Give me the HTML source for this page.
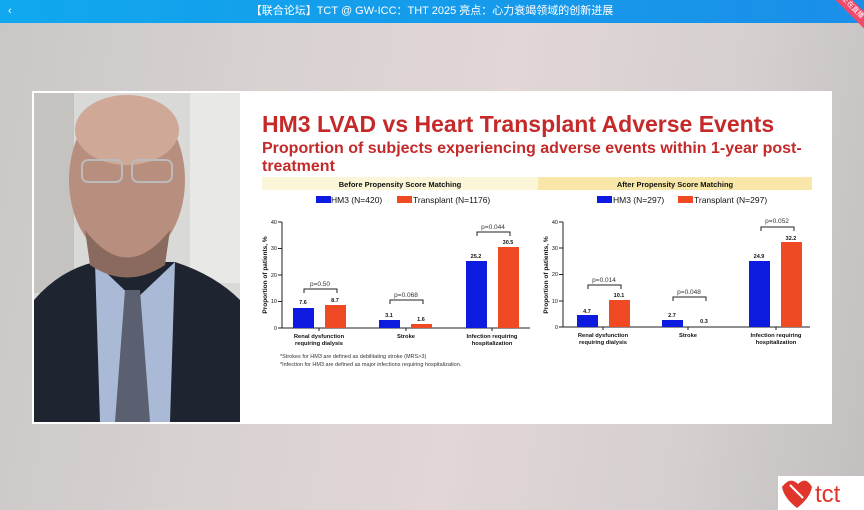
<!DOCTYPE html>
<html><head><meta charset="utf-8"><style>
*{margin:0;padding:0;box-sizing:border-box}
body{width:864px;height:510px;overflow:hidden;font-family:"Liberation Sans","Noto Sans CJK SC",sans-serif;background:linear-gradient(100deg,#c9c7c6 0%,#d8d2d1 30%,#e2d6d6 55%,#d5cfcf 80%,#c2bfbf 100%);position:relative}
.top{position:absolute;left:0;top:0;width:864px;height:23px;background:linear-gradient(90deg,#10a8ee,#1a8fe8);color:#fff;font-size:11px;text-align:center;line-height:23px}
.slide{position:absolute;left:32px;top:91px;width:800px;height:333px;background:#fff}
svg text{font-family:"Liberation Sans",sans-serif}
</style></head><body>
<div class="top"><span style="position:absolute;left:8px">‹</span>【联合论坛】TCT @ GW-ICC：THT 2025 亮点：心力衰竭领域的创新进展</div>
<div style="position:absolute;right:-18px;top:2px;width:60px;height:12px;background:#f04a6a;transform:rotate(45deg);color:#fff;font-size:7px;text-align:center;line-height:12px">正在直播</div>
<div class="slide"></div>
<svg width="864" height="510" style="position:absolute;left:0;top:0">
<rect x="34" y="93" width="206" height="329" fill="#d9d9d7"/>
<rect x="34" y="93" width="40" height="200" fill="#c4c3c0"/>
<rect x="190" y="93" width="50" height="190" fill="#e8e8e6"/>
<path d="M34 300 Q60 270 95 262 L175 262 Q215 275 240 300 L240 422 L34 422Z" fill="#1f2530"/>
<path d="M95 262 L135 300 L175 262 L170 422 L100 422Z" fill="#a9b9d6"/>
<path d="M125 290 L140 290 L150 422 L115 422Z" fill="#5a6070"/>
<ellipse cx="127" cy="180" rx="58" ry="82" fill="#b88e7e"/>
<ellipse cx="127" cy="130" rx="52" ry="35" fill="#cfa898"/>
<path d="M85 230 Q127 285 170 230 L165 265 Q127 290 90 265Z" fill="#8a6a5e"/>
<rect x="82" y="160" width="40" height="22" rx="6" fill="none" stroke="#bbb" stroke-width="2"/>
<rect x="132" y="160" width="40" height="22" rx="6" fill="none" stroke="#bbb" stroke-width="2"/>
<text x="262" y="132" font-size="23" font-weight="bold" fill="#c42a2a">HM3 LVAD vs Heart Transplant Adverse Events</text>
<text x="262" y="153" font-size="16" font-weight="bold" fill="#c42a2a">Proportion of subjects experiencing adverse events within 1-year post-</text>
<text x="262" y="171" font-size="16" font-weight="bold" fill="#c42a2a">treatment</text>
<rect x="262" y="177" width="276" height="13" fill="#fbf6d8"/>
<rect x="538" y="177" width="274" height="13" fill="#f8e7a8"/>
<text x="400" y="187" font-size="7.5" font-weight="bold" text-anchor="middle" fill="#111">Before Propensity Score Matching</text>
<text x="675" y="187" font-size="7.5" font-weight="bold" text-anchor="middle" fill="#111">After Propensity Score Matching</text>
<g font-size="8.5" fill="#111">
<rect x="316" y="196" width="15" height="7" fill="#0d1be0"/><text x="331" y="203">HM3 (N=420)</text>
<rect x="397" y="196" width="15" height="7" fill="#f04a24"/><text x="413" y="203">Transplant (N=1176)</text>
<rect x="597" y="196" width="15" height="7" fill="#0d1be0"/><text x="613" y="203">HM3 (N=297)</text>
<rect x="678" y="196" width="15" height="7" fill="#f04a24"/><text x="694" y="203">Transplant (N=297)</text>
</g>
<g stroke="#222" stroke-width="1" fill="none">
<path d="M282 222 V328 H530"/><path d="M278 222h4M278 248.5h4M278 275h4M278 301.5h4M278 328h4M319 328v3M406 328v3M492 328v3"/>
<path d="M563 222 V327 H810"/><path d="M559 222h4M559 248h4M559 274.5h4M559 301h4M559 327h4M603 327v3M688 327v3M776 327v3"/>
<path d="M304 293v-4h33v4M390 304v-4h33v4M477 236v-4h33v4"/>
<path d="M588 289v-4h33v4M673 301v-4h33v4M761 231v-4h33v4"/>
</g>
<g font-size="5.5" fill="#111" text-anchor="end"><text x="277" y="224">40</text><text x="277" y="250">30</text><text x="277" y="277">20</text><text x="277" y="303">10</text><text x="277" y="330">0</text>
<text x="558" y="224">40</text><text x="558" y="250">30</text><text x="558" y="276">20</text><text x="558" y="303">10</text><text x="558" y="329">0</text></g>
<text transform="translate(267 275) rotate(-90)" font-size="6.5" font-weight="bold" text-anchor="middle" fill="#111">Proportion of patients, %</text>
<text transform="translate(548 275) rotate(-90)" font-size="6.5" font-weight="bold" text-anchor="middle" fill="#111">Proportion of patients, %</text>
<g fill="#0d1be0"><rect x="293" y="308" width="21" height="20"/><rect x="379" y="320" width="21" height="8"/><rect x="466" y="261" width="21" height="67"/>
<rect x="577" y="315" width="21" height="12"/><rect x="662" y="320" width="21" height="7"/><rect x="749" y="261" width="21" height="66"/></g>
<g fill="#f04a24"><rect x="325" y="305" width="21" height="23"/><rect x="411" y="324" width="21" height="4"/><rect x="498" y="247" width="21" height="81"/>
<rect x="609" y="300" width="21" height="27"/><rect x="781" y="242" width="21" height="85"/></g>
<g font-size="5.5" font-weight="bold" fill="#111" text-anchor="middle">
<text x="303" y="304">7.6</text><text x="335" y="302">8.7</text><text x="389" y="317">3.1</text><text x="421" y="321">1.6</text><text x="476" y="258">25.2</text><text x="508" y="244">30.5</text>
<text x="587" y="313">4.7</text><text x="619" y="297">10.1</text><text x="672" y="317">2.7</text><text x="704" y="323">0.3</text><text x="759" y="258">24.9</text><text x="791" y="240">32.2</text></g>
<g font-size="6.5" fill="#333" text-anchor="middle">
<text x="320" y="286">p=0.50</text><text x="406" y="297">p=0.068</text><text x="493" y="229">p=0.044</text>
<text x="604" y="282">p=0.014</text><text x="689" y="294">p=0.048</text><text x="777" y="223">p=0.052</text></g>
<g font-size="5.8" font-weight="bold" fill="#111" text-anchor="middle">
<text x="319" y="338">Renal dysfunction</text><text x="319" y="345">requiring dialysis</text><text x="406" y="338">Stroke</text><text x="492" y="338">Infection requiring</text><text x="492" y="345">hospitalization</text>
<text x="603" y="337">Renal dysfunction</text><text x="603" y="344">requiring dialysis</text><text x="688" y="337">Stroke</text><text x="776" y="337">Infection requiring</text><text x="776" y="344">hospitalization</text></g>
<g font-size="5.5" fill="#333"><text x="280" y="358">*Strokes for HM3 are defined as debilitating stroke (MRS&gt;3)</text><text x="280" y="366">*Infection for HM3 are defined as major infections requiring hospitalization.</text></g>
<rect x="778" y="476" width="86" height="34" fill="#fff"/>
<path d="M782 487 Q790 476 798 484 Q806 476 812 487 Q810 498 797 508 Q784 498 782 487Z" fill="#e0352b"/>
<path d="M790 485 L803 498" stroke="#fff" stroke-width="2"/>
<text x="815" y="502" font-size="24" fill="#e0352b">tct</text>
</svg>
</body></html>
